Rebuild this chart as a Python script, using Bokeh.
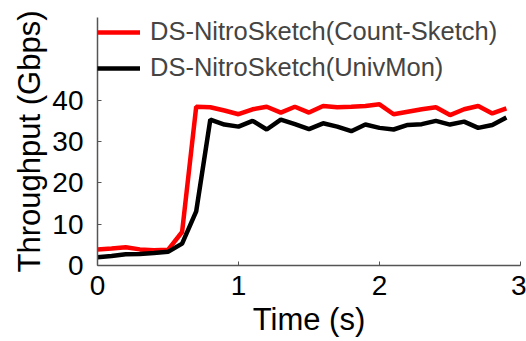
from bokeh.plotting import figure
from bokeh.models import FixedTicker, Range1d, Legend, LegendItem
from bokeh.embed import file_html
from bokeh.resources import INLINE

times = [0.0, 0.1, 0.2, 0.3, 0.4, 0.5, 0.6, 0.7, 0.8, 0.9,
         1.0, 1.1, 1.2, 1.3, 1.4, 1.5, 1.6, 1.7, 1.8, 1.9,
         2.0, 2.1, 2.2, 2.3, 2.4, 2.5, 2.6, 2.7, 2.8, 2.9]
count_sketch = [3.9, 4.1, 4.4, 3.9, 3.7, 3.8, 8.1, 38.4, 38.3, 37.5,
                36.6, 37.8, 38.4, 37.0, 38.4, 37.0, 38.6, 38.3, 38.4, 38.6,
                39.0, 36.6, 37.2, 37.8, 38.3, 36.4, 37.8, 38.6, 36.8, 38.0]
univmon = [2.0, 2.3, 2.7, 2.8, 3.0, 3.3, 5.3, 13.1, 35.3, 34.1,
           33.6, 35.0, 32.9, 35.3, 34.2, 33.0, 34.4, 33.6, 32.5, 34.1,
           33.3, 32.9, 34.0, 34.2, 35.0, 34.1, 34.8, 33.3, 34.0, 35.8]
series_names = ["DS-NitroSketch(Count-Sketch)", "DS-NitroSketch(UnivMon)"]
x_ticks = [0, 1, 2, 3]
y_ticks = [0, 10, 20, 30, 40]

FONT = "Liberation Sans"

p = figure(width=526, height=341, output_backend="svg", toolbar_location=None,
           x_range=Range1d(0, 3), y_range=Range1d(0, 60),
           min_border_left=97, min_border_right=6, min_border_top=17, min_border_bottom=76)
p.outline_line_color = None
p.xgrid.visible = False
p.ygrid.visible = False
p.background_fill_color = "white"
p.border_fill_color = "white"

r1 = p.line(times, count_sketch, line_color="#ff0000", line_width=4.5)
r2 = p.line(times, univmon, line_color="#000000", line_width=4.5)

for ax in (p.xaxis[0], p.yaxis[0]):
    ax.axis_line_color = "#555555"
    ax.axis_line_width = 1.5
    ax.major_tick_line_color = "#555555"
    ax.major_tick_in = 4
    ax.major_tick_out = 0
    ax.minor_tick_line_color = None
    ax.major_label_text_font = FONT
    ax.major_label_text_font_size = "28px"
    ax.major_label_text_color = "black"
    ax.axis_label_text_font = FONT
    ax.axis_label_text_font_size = "31px"
    ax.axis_label_text_font_style = "normal"
    ax.axis_label_text_color = "black"

p.xaxis.ticker = FixedTicker(ticks=x_ticks)
p.yaxis.ticker = FixedTicker(ticks=y_ticks)
p.xaxis.axis_label = "Time (s)"
p.yaxis.axis_label = "Throughput (Gbps)"
p.xaxis.major_label_standoff = 10
p.yaxis.major_label_standoff = 14
p.xaxis.axis_label_standoff = 4
p.yaxis.axis_label_standoff = 2

legend = Legend(items=[LegendItem(label=series_names[0], renderers=[r1]),
                       LegendItem(label=series_names[1], renderers=[r2])],
                location="top_left", margin=0, padding=0, spacing=7,
                glyph_width=43, glyph_height=26, label_height=26, label_standoff=10,
                label_text_font=FONT, label_text_font_size="25.5px",
                background_fill_alpha=0, border_line_alpha=0)
p.add_layout(legend)

open("out.html", "w").write(file_html(p, INLINE))
